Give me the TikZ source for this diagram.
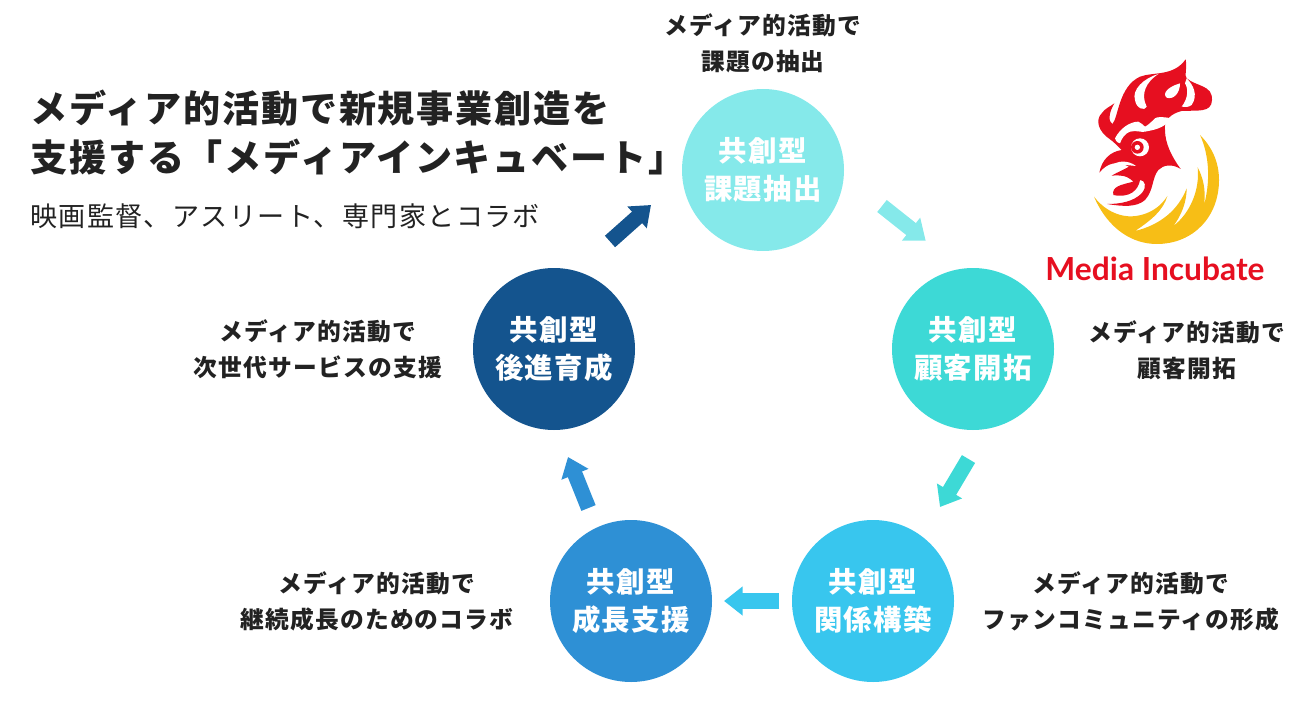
\documentclass[tikz,border=0pt]{standalone}
\usepackage{fontspec}
\usepackage{xcolor}
\usetikzlibrary{arrows.meta}
\newfontfamily\jpfont[LetterSpace=5]{Noto Sans CJK JP}
\newfontfamily\logofont{Lato}

\definecolor{stepa}{HTML}{85E9EA}
\definecolor{stepb}{HTML}{3DD9D6}
\definecolor{stepc}{HTML}{38C6EE}
\definecolor{stepd}{HTML}{2E90D5}
\definecolor{stepe}{HTML}{14548E}
\definecolor{logored}{HTML}{E60F20}
\definecolor{logoyellow}{HTML}{F7BE16}
\definecolor{inkdark}{HTML}{222222}

\begin{document}
\begin{tikzpicture}[
    x=0.75pt, y=-0.75pt,
    stage/.style={circle, fill=#1, minimum size=121.5pt, inner sep=0pt, text=white, align=center,
      font=\fontsize{21.3pt}{28.5pt}\jpfont\bfseries},
    note/.style={text=inkdark, align=center, font=\fontsize{17.8pt}{27pt}\jpfont\bfseries},
    headline/.style={anchor=west, inner sep=0pt, text=inkdark, font=\fontsize{27.8pt}{32pt}\jpfont\bfseries},
    flow/.style={line width=11.5pt, draw=#1, -{Triangle[width=21pt,length=14pt]}},
  ]
  \useasboundingbox (0,0) rectangle (1306,706);

  % Title block
  \node[headline] (title1) at (30,108) {メディア的活動で新規事業創造を};
  \node[headline] (title2) at (30,157) {支援する「メディアインキュベート」};
  \node[anchor=west, inner sep=0pt, text=inkdark, font=\fontsize{20.3pt}{24pt}\jpfont] (subtitle) at (30,216) {映画監督、アスリート、専門家とコラボ};

  % Stages of the cycle
  \node[stage=stepa] (extract) at (763,170) {共創型\\課題抽出};
  \node[stage=stepb] (develop) at (973,349) {共創型\\顧客開拓};
  \node[stage=stepc] (relation) at (873,601) {共創型\\関係構築};
  \node[stage=stepd] (growth) at (631,601) {共創型\\成長支援};
  \node[stage=stepe] (nurture) at (554,349) {共創型\\後進育成};

  % Notes beside the stages
  \node[note] (noteextract) at (763,43) {メディア的活動で\\課題の抽出};
  \node[note] (notedevelop) at (1187,350) {メディア的活動で\\顧客開拓};
  \node[note] (noterelation) at (1131,601) {メディア的活動で\\ファンコミュニティの形成};
  \node[note] (notegrowth) at (377,601) {メディア的活動で\\継続成長のためのコラボ};
  \node[note] (notenurture) at (318,349) {メディア的活動で\\次世代サービスの支援};

  % Arrow ends
  \coordinate (flowa) at (882,206);
  \coordinate (flowb) at (925.7,240.7);
  \coordinate (flowc) at (968.5,459);
  \coordinate (flowd) at (940,507);
  \coordinate (flowe) at (779,601);
  \coordinate (flowf) at (724,601);
  \coordinate (flowg) at (588.5,508);
  \coordinate (flowh) at (568,457);
  \coordinate (flowi) at (610,241.5);
  \coordinate (flowj) at (651,205);

  % Arrows between the stages
  \draw[flow=stepa] (flowa) -- (flowb);
  \draw[flow=stepb] (flowc) -- (flowd);
  \draw[flow=stepc] (flowe) -- (flowf);
  \draw[flow=stepd] (flowg) -- (flowh);
  \draw[flow=stepe] (flowi) -- (flowj);

  % Logo
  \begin{scope}[shift={(1030,50)}, x=0.25pt, y=-0.25pt]
    \fill[logoyellow] (192,440) .. controls (235,540) and (310,582) .. (380,582)
      .. controls (490,582) and (567,500) .. (567,390)
      .. controls (567,335) and (545,290) .. (510,255)
      .. controls (540,320) and (540,400) .. (522,465)
      .. controls (528,420) and (520,385) .. (503,352)
      .. controls (510,420) and (480,490) .. (430,528)
      .. controls (455,495) and (470,455) .. (470,415)
      .. controls (445,480) and (390,525) .. (315,543)
      .. controls (365,510) and (400,480) .. (412,438)
      .. controls (380,490) and (320,505) .. (280,497)
      .. controls (245,490) and (215,470) .. (192,440) -- cycle;
    \fill[logored] (467,28) .. controls (472,60) and (462,75) .. (470,85)
      .. controls (500,110) and (548,105) .. (546,150)
      .. controls (545,190) and (500,180) .. (455,183)
      .. controls (425,190) and (400,210) .. (405,240)
      .. controls (405,280) and (425,320) .. (452,357)
      .. controls (425,340) and (400,345) .. (385,360)
      .. controls (365,385) and (372,420) .. (345,450)
      .. controls (320,472) and (280,470) .. (232,462)
      .. controls (270,462) and (310,455) .. (335,430)
      .. controls (352,410) and (345,390) .. (330,390)
      .. controls (325,420) and (300,445) .. (250,435)
      .. controls (245,410) and (270,405) .. (310,395)
      .. controls (290,375) and (270,375) .. (245,377)
      .. controls (265,365) and (280,360) .. (297,350)
      .. controls (260,330) and (230,340) .. (208,368)
      .. controls (215,330) and (240,305) .. (275,300)
      .. controls (260,285) and (250,275) .. (240,268)
      .. controls (205,245) and (195,210) .. (215,190)
      .. controls (225,175) and (240,170) .. (253,160)
      .. controls (235,190) and (235,215) .. (247,222)
      .. controls (265,205) and (265,110) .. (330,80)
      .. controls (370,65) and (430,80) .. (467,28) -- cycle;
    \fill[white] (385,72) .. controls (340,85) and (305,120) .. (315,150)
      .. controls (318,175) and (345,185) .. (350,170)
      .. controls (330,130) and (350,95) .. (385,72) -- cycle;
    \fill[white] (450,100) .. controls (415,110) and (395,130) .. (410,143)
      .. controls (430,150) and (450,130) .. (450,100) -- cycle;
    \fill[white] (470,85) .. controls (490,105) and (505,135) .. (485,165)
      .. controls (475,172) and (465,172) .. (455,170)
      .. controls (475,145) and (475,115) .. (465,100) -- cycle;
    \fill[white] (423,205) .. controls (400,200) and (380,200) .. (375,205)
      .. controls (365,215) and (355,225) .. (345,230)
      .. controls (340,225) and (332,218) .. (325,215)
      .. controls (300,215) and (270,235) .. (255,265)
      .. controls (258,275) and (265,280) .. (270,280)
      .. controls (275,265) and (285,250) .. (300,245)
      .. controls (320,240) and (335,248) .. (345,245)
      .. controls (370,240) and (405,235) .. (423,205) -- cycle;
    \fill[white] (330,292) circle[radius=27];
    \fill[logored] (322,292) circle[radius=19];
    \fill[white] (322,292) circle[radius=8];
    \fill[white] (242,350) .. controls (260,330) and (295,330) .. (318,348)
      .. controls (290,345) and (265,342) .. (242,350) -- cycle;
  \end{scope}
  \node[text=logored, font=\fontsize{23.8pt}{24pt}\logofont\bfseries] (logotext) at (1155,269) {Media Incubate};
\end{tikzpicture}
\end{document}
